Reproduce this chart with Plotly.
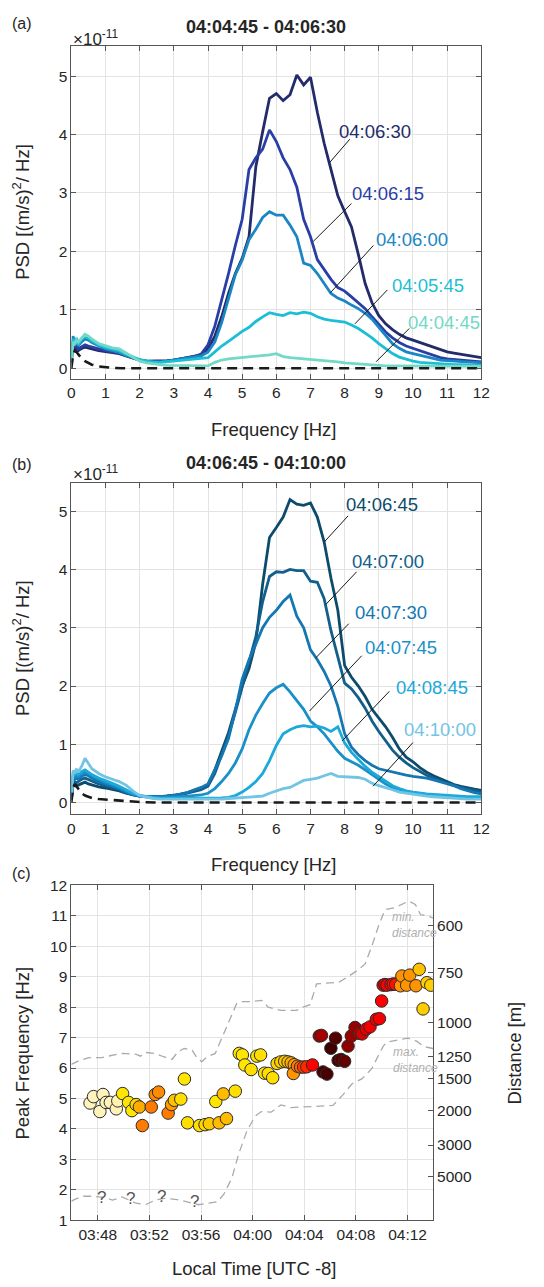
import plotly.graph_objects as go

W, H = 544, 1287

# ---- PSD panels: shared frequency grid (Hz) ----
freq = [0, 0.05, 0.1, 0.15, 0.2, 0.3, 0.4, 0.5, 0.6, 0.8, 1.0, 1.2, 1.4, 1.6, 1.8, 2.0, 2.2, 2.4, 2.6, 2.8,
        3.0, 3.2, 3.4, 3.6, 3.8, 4.0, 4.2, 4.4, 4.6, 4.8, 5.0, 5.2, 5.4, 5.6, 5.8, 6.0, 6.2, 6.4, 6.6, 6.8,
        7.0, 7.2, 7.4, 7.6, 7.8, 8.0, 8.2, 8.4, 8.6, 8.8, 9.0, 9.2, 9.4, 9.6, 9.8, 10.0, 10.2, 10.4, 10.6,
        10.8, 11.0, 11.2, 11.4, 11.6, 11.8, 12.0]

# panel (a), PSD in 1e-11 (m/s)^2/Hz
psd_a_0630 = [0.12, 0.38, 0.30, 0.36, 0.30, 0.34, 0.36, 0.35, 0.33, 0.30, 0.28, 0.26, 0.25, 0.21, 0.17, 0.14, 0.12, 0.12, 0.12, 0.13,
              0.14, 0.16, 0.18, 0.20, 0.23, 0.33, 0.55, 0.88, 1.28, 1.62, 1.88, 2.25, 3.45, 4.05, 4.62, 4.70, 4.58, 4.68, 5.02, 4.85,
              4.98, 4.38, 3.85, 3.40, 2.95, 2.68, 2.42, 1.95, 1.45, 1.12, 0.90, 0.76, 0.66, 0.58, 0.52, 0.48, 0.44, 0.40, 0.35,
              0.31, 0.28, 0.26, 0.24, 0.22, 0.20, 0.18]
psd_a_0615 = [0.15, 0.45, 0.35, 0.42, 0.33, 0.37, 0.40, 0.38, 0.36, 0.33, 0.30, 0.28, 0.26, 0.22, 0.18, 0.14, 0.12, 0.11, 0.11, 0.12,
              0.14, 0.16, 0.18, 0.20, 0.24, 0.40, 0.72, 1.15, 1.62, 2.10, 2.55, 3.40, 3.60, 3.75, 4.08, 3.88, 3.60, 3.40, 3.10, 2.55,
              2.25, 1.86, 1.68, 1.52, 1.38, 1.32, 1.22, 1.12, 1.02, 0.88, 0.74, 0.62, 0.52, 0.44, 0.38, 0.34, 0.30, 0.26, 0.21,
              0.18, 0.16, 0.15, 0.14, 0.13, 0.12, 0.11]
psd_a_0600 = [0.10, 0.55, 0.40, 0.50, 0.38, 0.45, 0.50, 0.48, 0.44, 0.38, 0.33, 0.30, 0.27, 0.22, 0.18, 0.14, 0.12, 0.11, 0.11, 0.12,
              0.14, 0.16, 0.18, 0.19, 0.21, 0.28, 0.45, 0.78, 1.20, 1.60, 1.85, 2.20, 2.38, 2.58, 2.68, 2.62, 2.62, 2.45, 2.25, 1.80,
              1.76, 1.62, 1.45, 1.28, 1.20, 1.15, 1.08, 1.02, 0.94, 0.84, 0.70, 0.55, 0.42, 0.34, 0.28, 0.25, 0.22, 0.19, 0.16,
              0.14, 0.13, 0.12, 0.11, 0.10, 0.10, 0.09]
psd_a_0545 = [0.10, 0.50, 0.42, 0.52, 0.40, 0.50, 0.54, 0.52, 0.47, 0.40, 0.35, 0.32, 0.30, 0.24, 0.19, 0.15, 0.12, 0.10, 0.10, 0.11,
              0.12, 0.13, 0.14, 0.15, 0.16, 0.18, 0.28, 0.38, 0.46, 0.55, 0.63, 0.70, 0.80, 0.88, 0.95, 0.92, 0.90, 0.95, 0.93, 0.96,
              0.94, 0.88, 0.84, 0.82, 0.80, 0.79, 0.74, 0.68, 0.60, 0.52, 0.42, 0.33, 0.25, 0.19, 0.15, 0.12, 0.10, 0.09, 0.08,
              0.07, 0.07, 0.06, 0.06, 0.06, 0.05, 0.05]
psd_a_0445 = [0.10, 0.45, 0.42, 0.48, 0.45, 0.52, 0.58, 0.55, 0.50, 0.42, 0.38, 0.35, 0.33, 0.26, 0.18, 0.12, 0.09, 0.07, 0.06, 0.05,
              0.05, 0.04, 0.04, 0.04, 0.04, 0.04, 0.10, 0.14, 0.16, 0.17, 0.18, 0.19, 0.20, 0.21, 0.23, 0.25, 0.20, 0.18, 0.17, 0.16,
              0.16, 0.15, 0.14, 0.12, 0.11, 0.09, 0.08, 0.07, 0.06, 0.05, 0.05, 0.04, 0.04, 0.04, 0.04, 0.03, 0.03, 0.03, 0.03,
              0.03, 0.03, 0.03, 0.03, 0.03, 0.03, 0.03]
noise_freq_a = [0, 0.05, 0.1, 0.15, 0.2, 0.3, 0.4, 0.5, 0.6, 0.8, 1.0, 1.2, 1.5, 12.0]
noise_a = [0.0, 0.22, 0.30, 0.28, 0.24, 0.17, 0.12, 0.09, 0.06, 0.03, 0.015, 0.005, 0.0, 0.0]

# panel (b)
psd_b_0645 = [0.05, 0.30, 0.32, 0.28, 0.30, 0.33, 0.35, 0.32, 0.30, 0.27, 0.25, 0.23, 0.20, 0.16, 0.13, 0.11, 0.10, 0.10, 0.10, 0.11,
              0.12, 0.14, 0.17, 0.21, 0.24, 0.30, 0.56, 0.88, 1.20, 1.60, 2.00, 2.30, 2.75, 3.75, 4.55, 4.72, 4.90, 5.20, 5.12, 5.10,
              5.14, 4.90, 4.47, 3.85, 3.30, 2.35, 2.15, 2.00, 1.82, 1.60, 1.45, 1.30, 1.12, 0.92, 0.78, 0.70, 0.60, 0.52, 0.46,
              0.41, 0.36, 0.31, 0.28, 0.25, 0.23, 0.21]
psd_b_0700 = [0.05, 0.38, 0.36, 0.34, 0.36, 0.40, 0.42, 0.40, 0.37, 0.32, 0.29, 0.26, 0.22, 0.17, 0.13, 0.11, 0.10, 0.10, 0.10, 0.11,
              0.12, 0.14, 0.16, 0.19, 0.22, 0.28, 0.50, 0.82, 1.15, 1.55, 1.98, 2.40, 2.85, 3.45, 3.88, 3.96, 3.95, 4.00, 3.98, 3.98,
              3.80, 3.78, 3.50, 2.95, 2.50, 2.05, 1.95, 1.80, 1.62, 1.40, 1.22, 1.05, 0.90, 0.78, 0.68, 0.60, 0.53, 0.47, 0.42,
              0.37, 0.33, 0.29, 0.26, 0.23, 0.20, 0.18]
psd_b_0730 = [0.05, 0.45, 0.40, 0.42, 0.40, 0.45, 0.48, 0.46, 0.42, 0.36, 0.32, 0.28, 0.24, 0.18, 0.14, 0.11, 0.10, 0.10, 0.10, 0.11,
              0.12, 0.14, 0.17, 0.22, 0.26, 0.32, 0.55, 0.80, 1.10, 1.58, 2.12, 2.45, 2.72, 3.00, 3.18, 3.30, 3.45, 3.56, 3.20, 3.00,
              2.62, 2.45, 2.25, 2.00, 1.65, 1.18, 0.95, 0.82, 0.72, 0.64, 0.58, 0.55, 0.52, 0.49, 0.47, 0.45, 0.44, 0.42, 0.39,
              0.36, 0.33, 0.29, 0.24, 0.20, 0.17, 0.15]
psd_b_0745 = [0.05, 0.50, 0.45, 0.48, 0.45, 0.50, 0.52, 0.50, 0.46, 0.40, 0.35, 0.31, 0.26, 0.20, 0.15, 0.12, 0.10, 0.09, 0.09, 0.09,
              0.10, 0.10, 0.11, 0.12, 0.13, 0.16, 0.24, 0.36, 0.50, 0.68, 0.92, 1.25, 1.50, 1.70, 1.88, 1.97, 2.03, 1.90, 1.76, 1.60,
              1.40, 1.30, 1.18, 1.02, 0.88, 0.76, 0.70, 0.64, 0.56, 0.48, 0.40, 0.32, 0.26, 0.22, 0.19, 0.17, 0.15, 0.13, 0.12,
              0.11, 0.10, 0.09, 0.08, 0.08, 0.07, 0.07]
psd_b_0845 = [0.05, 0.52, 0.48, 0.50, 0.48, 0.53, 0.56, 0.52, 0.48, 0.42, 0.38, 0.33, 0.28, 0.22, 0.16, 0.12, 0.10, 0.08, 0.07, 0.07,
              0.07, 0.07, 0.07, 0.07, 0.07, 0.07, 0.08, 0.08, 0.09, 0.12, 0.18, 0.26, 0.36, 0.50, 0.72, 0.98, 1.18, 1.25, 1.30, 1.32,
              1.30, 1.31, 1.28, 1.22, 1.30, 1.02, 0.86, 0.74, 0.62, 0.52, 0.44, 0.37, 0.29, 0.24, 0.20, 0.18, 0.16, 0.15, 0.14,
              0.13, 0.12, 0.11, 0.11, 0.10, 0.10, 0.10]
psd_b_1000 = [0.05, 0.55, 0.50, 0.58, 0.52, 0.62, 0.76, 0.66, 0.58, 0.50, 0.44, 0.40, 0.36, 0.30, 0.20, 0.12, 0.09, 0.07, 0.06, 0.06,
              0.05, 0.05, 0.05, 0.05, 0.05, 0.05, 0.06, 0.06, 0.07, 0.08, 0.08, 0.09, 0.10, 0.11, 0.16, 0.20, 0.24, 0.26, 0.32, 0.38,
              0.40, 0.42, 0.46, 0.50, 0.45, 0.44, 0.44, 0.43, 0.40, 0.33, 0.29, 0.26, 0.22, 0.18, 0.16, 0.14, 0.12, 0.11, 0.10,
              0.09, 0.08, 0.07, 0.07, 0.06, 0.06, 0.06]
noise_freq_b = [0, 0.05, 0.1, 0.15, 0.2, 0.3, 0.4, 0.5, 0.6, 0.8, 1.0, 1.2, 1.4, 1.6, 2.0, 2.5, 12.0]
noise_b = [0.0, 0.25, 0.32, 0.28, 0.22, 0.16, 0.12, 0.10, 0.08, 0.06, 0.05, 0.04, 0.03, 0.02, 0.01, 0.0, 0.0]

# ---- panel (c): minutes after 03:00 ----
peak_time = [47.40, 47.67, 48.40, 48.16, 48.64, 48.97, 49.43, 49.55, 49.92, 50.38, 50.64, 50.97, 51.22, 51.45,
             52.14, 52.45, 52.71, 53.45, 53.71, 53.93, 54.43, 54.71, 54.95, 55.88, 56.31, 56.64, 57.14, 57.40,
             57.72, 57.97, 58.65, 58.96, 59.20, 59.39, 59.88, 60.32, 60.61, 60.92, 61.21, 61.55, 61.89, 62.18,
             62.48, 62.74, 62.98, 63.22, 63.15, 63.47, 63.71, 63.95, 64.19, 64.63, 65.16, 65.33, 65.45, 65.75,
             66.06, 66.42, 66.62, 66.85, 67.12, 67.39, 67.64, 67.93, 68.24, 68.48, 68.80, 69.09, 69.58, 69.82,
             69.99, 70.11, 70.25, 70.40, 70.72, 70.90, 71.08, 71.45, 71.56, 71.93, 72.17, 72.65, 72.90, 73.20,
             73.50, 73.80]
peak_freq = [4.85, 5.06, 5.13, 4.57, 4.87, 4.87, 4.66, 4.92, 5.16, 4.87, 4.60, 4.80, 4.72, 4.11,
             4.72, 5.13, 5.21, 4.52, 4.80, 4.94, 4.98, 5.64, 4.20, 4.11, 4.14, 4.17, 4.90, 4.20,
             5.15, 4.34, 5.24, 6.48, 6.43, 6.10, 5.95, 6.39, 6.43, 5.83, 5.82, 5.68, 6.15, 6.20,
             6.22, 6.20, 6.17, 6.11, 5.82, 6.06, 6.03, 6.03, 6.04, 6.10, 7.05, 7.07, 5.87, 5.80,
             6.65, 6.98, 6.25, 6.28, 6.22, 6.72, 7.05, 7.33, 7.14, 7.12, 7.28, 7.35, 7.60, 7.62,
             8.20, 8.72, 8.74, 8.72, 8.74, 8.76, 8.75, 8.70, 9.02, 8.72, 9.05, 8.70, 9.24, 7.94,
             8.80, 8.72]
peak_level = [0.02, 0.02, 0.02, 0.03, 0.03, 0.03, 0.04, 0.05, 0.20, 0.20, 0.20, 0.25, 0.35, 0.45,
              0.45, 0.42, 0.42, 0.45, 0.38, 0.30, 0.22, 0.20, 0.22, 0.22, 0.24, 0.28, 0.20, 0.32,
              0.32, 0.32, 0.22, 0.20, 0.20, 0.20, 0.22, 0.22, 0.22, 0.22, 0.22, 0.22, 0.25, 0.27,
              0.28, 0.30, 0.35, 0.38, 0.40, 0.45, 0.48, 0.52, 0.55, 0.60, 0.78, 0.78, 0.95, 0.95,
              0.97, 0.93, 0.95, 0.93, 0.90, 0.82, 0.80, 0.80, 0.75, 0.68, 0.65, 0.63, 0.62, 0.62,
              0.60, 0.62, 0.60, 0.60, 0.60, 0.58, 0.58, 0.40, 0.40, 0.40, 0.40, 0.40, 0.30, 0.27,
              0.27, 0.27]

min_dist_time = [45.95, 46.6, 47.3, 48.3, 48.8, 49.9, 51.0, 51.3, 51.7, 52.4, 53.1, 53.75, 54.2, 54.7, 55.3,
                 55.7, 56.05, 56.5, 57.1, 57.6, 58.2, 58.75, 59.1, 59.9, 60.7, 61.2, 62.2, 63.4, 63.9, 64.45,
                 64.95, 66.0, 66.7, 67.5, 68.2, 68.7, 69.2, 69.75, 70.25, 71.0, 71.75, 72.1, 72.6, 73.0, 73.5, 73.97]
min_dist_freq = [6.12, 6.25, 6.34, 6.34, 6.39, 6.48, 6.45, 6.39, 6.51, 6.48, 6.37, 6.28, 6.53, 6.64, 6.59,
                 6.32, 6.21, 6.37, 6.48, 6.97, 7.51, 8.11, 8.18, 8.18, 8.22, 8.0, 7.89, 7.89, 8.0, 8.08,
                 8.76, 8.79, 8.82, 9.03, 9.23, 9.41, 9.96, 10.66, 11.2, 11.26, 11.42, 11.48, 11.37, 11.04, 10.99, 10.93]
max_dist_time = [45.95, 46.1, 46.83, 47.56, 48.54, 49.14, 49.87, 50.97, 51.7, 52.43, 53.16, 54.13, 54.86,
                 55.83, 56.56, 57.29, 57.78, 58.4, 58.9, 59.54, 60.17, 60.67, 61.43, 62.18, 62.94, 64.7,
                 66.21, 66.97, 67.72, 68.48, 69.23, 69.74, 70.12, 70.4, 71.35, 72.02, 72.7, 73.3, 73.97]
max_dist_freq = [1.62, 1.66, 1.79, 1.79, 1.75, 1.66, 1.77, 1.56, 1.51, 1.66, 1.72, 1.68, 1.61,
                 1.51, 1.56, 1.61, 1.87, 2.4, 3.16, 3.92, 4.41, 4.57, 4.55, 4.79, 4.70, 4.73,
                 4.77, 5.11, 5.49, 5.65, 5.98, 6.41, 6.72, 6.85, 6.94, 6.98, 6.88, 6.7, 6.64]
unknown_time = [48.25, 50.57, 52.95, 55.52]
unknown_freq = [1.76, 1.71, 1.77, 1.63]

time_ticks = [48, 52, 56, 60, 64, 68, 72]
time_labels = ["03:48", "03:52", "03:56", "04:00", "04:04", "04:08", "04:12"]
dist_labels = ["600", "750", "1000", "1250", "1500", "2000", "3000", "5000"]
dist_tick_freq = [10.69, 9.15, 7.50, 6.39, 5.64, 4.60, 3.47, 2.43]

FONT = "Liberation Sans, Arial, sans-serif"
TXT = "#262626"
TICK = 15.5
LABEL = 18.5


def px(xp, yp):
    return xp / W, 1 - yp / H


axis_style = dict(showline=True, linecolor="#555555", linewidth=1, mirror="ticks", ticks="inside",
                  ticklen=5, tickcolor="#555555", showgrid=True, gridcolor="#e3e3e3", gridwidth=1,
                  zeroline=False, tickfont=dict(size=TICK, color=TXT))

fig = go.Figure()

# (label, series, colour, label x, label y, leader x0, y0, x1, y1)
panel_a = [
    ("04:06:30", psd_a_0630, "#232b6b", 8.89, 4.06, 8.15, 3.92, 7.56, 3.52),
    ("04:06:15", psd_a_0615, "#2a3fa6", 9.27, 2.99, 8.20, 2.82, 7.08, 2.17),
    ("04:06:00", psd_a_0600, "#1a87c4", 9.96, 2.20, 8.84, 2.10, 7.58, 1.29),
    ("04:05:45", psd_a_0545, "#1bbfd5", 10.43, 1.42, 9.25, 1.34, 8.30, 0.76),
    ("04:04:45", psd_a_0445, "#74d8c6", 10.90, 0.79, 9.89, 0.68, 8.92, 0.11),
]
panel_b = [
    ("04:06:45", psd_b_0645, "#0b4b6b", 9.10, 5.12, 8.10, 4.92, 7.40, 4.47),
    ("04:07:00", psd_b_0700, "#125f8c", 9.27, 4.14, 8.35, 3.96, 7.45, 3.40),
    ("04:07:30", psd_b_0730, "#1477b2", 9.36, 3.27, 8.12, 3.07, 7.15, 2.48),
    ("04:07:45", psd_b_0745, "#1a90c8", 9.64, 2.66, 8.50, 2.52, 6.97, 1.57),
    ("04:08:45", psd_b_0845, "#1aa9d9", 10.57, 1.97, 9.31, 1.91, 7.93, 1.06),
    ("04:10:00", psd_b_1000, "#72c4e4", 10.79, 1.25, 10.00, 1.03, 8.83, 0.28),
]

annotations = []
shapes = []


def add_psd(panel, nf, nv, xa, ya):
    for name, vals, col, lx, ly, x0, y0, x1, y1 in panel:
        fig.add_trace(go.Scatter(x=freq, y=vals, mode="lines", line=dict(color=col, width=2.8),
                                 xaxis=xa, yaxis=ya, hoverinfo="skip"))
        annotations.append(dict(x=lx, y=ly, xref=xa, yref=ya, text=name, showarrow=False,
                                font=dict(size=LABEL, color=col)))
        shapes.append(dict(type="line", xref=xa, yref=ya, x0=x0, y0=y0, x1=x1, y1=y1,
                           line=dict(color="#1a1a1a", width=1)))
    fig.add_trace(go.Scatter(x=nf, y=nv, mode="lines", line=dict(color="#1a1a1a", width=2.6, dash="10px,6px"),
                             xaxis=xa, yaxis=ya, hoverinfo="skip"))


add_psd(panel_a, noise_freq_a, noise_a, "x", "y")
add_psd(panel_b, noise_freq_b, noise_b, "x2", "y2")

# panel (c)
for t, f in [(min_dist_time, min_dist_freq), (max_dist_time, max_dist_freq)]:
    fig.add_trace(go.Scatter(x=t, y=f, mode="lines", line=dict(color="#aaaaaa", width=1.3, dash="8px,5px"),
                             xaxis="x3", yaxis="y3", hoverinfo="skip"))
fig.add_trace(go.Scatter(
    x=peak_time, y=peak_freq, mode="markers", xaxis="x3", yaxis="y3",
    marker=dict(size=12.5, color=peak_level, cmin=0, cmax=1,
                colorscale=[[0, "#fff4c4"], [0.1, "#fff0a0"], [0.2, "#ffe500"], [0.32, "#ffbb00"],
                            [0.45, "#ff7a00"], [0.6, "#ff0000"], [0.8, "#9a0000"], [1, "#2e0000"]],
                line=dict(color="#2b2b2b", width=1))))
fig.add_trace(go.Scatter(x=[60], y=[5], xaxis="x3", yaxis="y4", mode="markers",
                         marker=dict(opacity=0), hoverinfo="skip"))

for t, f in zip(unknown_time, unknown_freq):
    annotations.append(dict(x=t, y=f, xref="x3", yref="y3", text="?", showarrow=False,
                            font=dict(size=17, color="#555555")))
annotations.append(dict(x=70.6, y=10.69, xref="x3", yref="y3", text="<i>min.<br>distance</i>",
                        showarrow=False, xanchor="left", align="left",
                        font=dict(size=12, color="#b0b0b0")))
annotations.append(dict(x=70.7, y=6.27, xref="x3", yref="y3", text="<i>max.<br>distance</i>",
                        showarrow=False, xanchor="left", align="left",
                        font=dict(size=12, color="#b0b0b0")))


# text placed in pixel coordinates
def paper_text(xp, yp, text, size, angle=0, bold=False, anchor="center"):
    x, y = px(xp, yp)
    if bold:
        text = "<b>" + text + "</b>"
    annotations.append(dict(x=x, y=y, xref="paper", yref="paper", text=text, showarrow=False,
                            textangle=angle, xanchor=anchor, yanchor="middle",
                            font=dict(size=size, color=TXT)))


paper_text(18, 15, "(a)", 16)
paper_text(18, 462, "(b)", 16)
paper_text(18, 876, "(c)", 16)
paper_text(268, 18, "04:04:45 - 04:06:30", 18, bold=True)
paper_text(268, 460, "04:06:45 - 04:10:00", 18, bold=True)
paper_text(69, 29, "×10<sup>-11</sup>", 17, anchor="left")
paper_text(69, 470, "×10<sup>-11</sup>", 17, anchor="left")
paper_text(18, 206, "PSD [(m/s)<sup>2</sup>/ Hz]", LABEL, angle=-90)
paper_text(18, 648, "PSD [(m/s)<sup>2</sup>/ Hz]", LABEL, angle=-90)
paper_text(18, 1058, "Peak Frequency [Hz]", LABEL, angle=-90)
paper_text(522, 1058, "Distance [m]", LABEL, angle=-90)
paper_text(276, 426, "Frequency [Hz]", LABEL)
paper_text(276, 867, "Frequency [Hz]", LABEL)
paper_text(257, 1276, "Local Time [UTC -8]", LABEL)

xa_dom = [69 / W, 489 / W]
xc_dom = [69 / W, 439.5 / W]

fig.update_layout(
    width=W, height=H, margin=dict(l=0, r=0, t=0, b=0),
    paper_bgcolor="white", plot_bgcolor="white", showlegend=False,
    font=dict(family=FONT, color=TXT),
    xaxis=dict(axis_style, domain=xa_dom, anchor="y", range=[0, 12], dtick=1),
    yaxis=dict(axis_style, domain=[1 - 374.5 / H, 1 - 38 / H], anchor="x", range=[-0.177, 5.507], dtick=1),
    xaxis2=dict(axis_style, domain=xa_dom, anchor="y2", range=[0, 12], dtick=1),
    yaxis2=dict(axis_style, domain=[1 - 816 / H, 1 - 480 / H], anchor="x2", range=[-0.2, 5.49], dtick=1),
    xaxis3=dict(axis_style, domain=xc_dom, anchor="y3", range=[45.95, 73.97],
                tickvals=time_ticks, ticktext=time_labels),
    yaxis3=dict(axis_style, domain=[1 - 1227.5 / H, 1 - 888 / H], anchor="x3", range=[1, 12], dtick=1,
                mirror=False),
    yaxis4=dict(overlaying="y3", anchor="x3", side="right", range=[1, 12], showgrid=False,
                showline=True, linecolor="#555555", linewidth=1, ticks="inside", ticklen=5,
                tickcolor="#555555", tickvals=dist_tick_freq, ticktext=dist_labels, zeroline=False,
                tickfont=dict(size=TICK, color=TXT)),
    annotations=annotations,
    shapes=shapes,
)

# the page's default body margin would push the 544x1287 figure out of the window
fig.write_html("out.html", config={"displayModeBar": False},
               post_script="document.body.style.margin='0';")
